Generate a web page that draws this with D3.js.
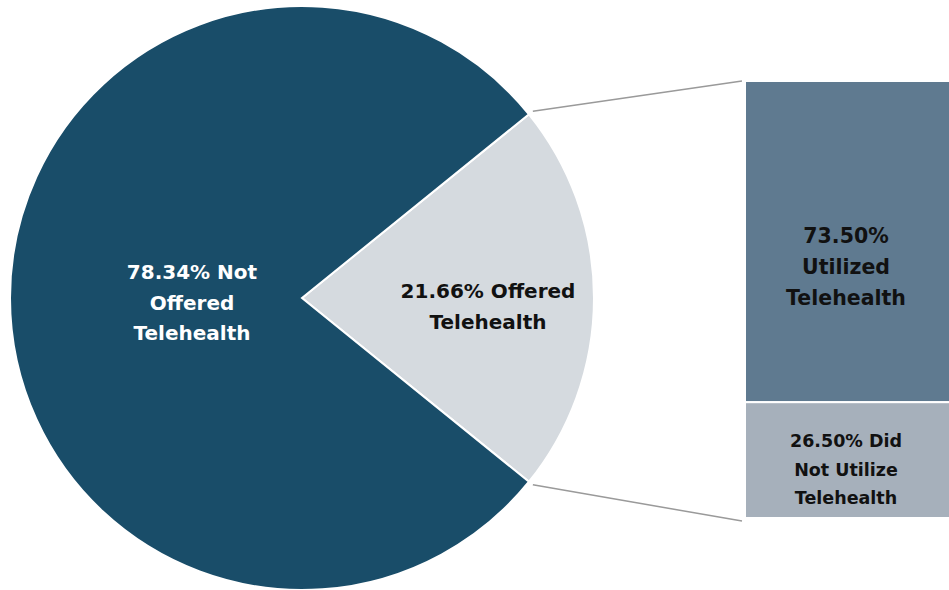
<!DOCTYPE html>
<html>
<head>
<meta charset="utf-8">
<script src="https://cdn.jsdelivr.net/npm/d3@7"></script>
<style>
  html, body { margin: 0; padding: 0; background: #fff; }
  svg { display: block; }
  text { font-family: "DejaVu Sans", "Liberation Sans", sans-serif; font-weight: 700; }
</style>
</head>
<body>
<svg id="chart" width="949" height="590"></svg>
<script>
// Share of respondents offered telehealth
const pieLabels = ["21.66% Offered\nTelehealth", "78.34% Not\nOffered\nTelehealth"];
const pieValues = [21.66, 78.34];
const pieColors = ["#d5dadf", "#194d69"];
const pieTextColors = ["#111111", "#ffffff"];

// Among those offered: utilization breakdown
const barLabels = ["73.50%\nUtilized\nTelehealth", "26.50% Did\nNot Utilize\nTelehealth"];
const barValues = [73.50, 26.50];
const barColors = ["#5f7a90", "#a6b0bb"];

const svg = d3.select("#chart");
const cx = 302, cy = 298, R = 292;

// Rotate the pie so the "Offered" slice is centred on the right-hand side
const offeredSpan = pieValues[0] / d3.sum(pieValues) * 2 * Math.PI;
const start = Math.PI / 2 - offeredSpan / 2;
const pie = d3.pie().sort(null).value(d => d).startAngle(start).endAngle(start + 2 * Math.PI);
const arcs = pie(pieValues);
const arc = d3.arc().innerRadius(0).outerRadius(R);

const g = svg.append("g").attr("transform", `translate(${cx},${cy})`);
g.selectAll("path.slice")
  .data(arcs)
  .join("path")
  .attr("class", "slice")
  .attr("d", arc)
  .attr("fill", (d, i) => pieColors[i])
  .attr("stroke", "#fff")
  .attr("stroke-width", 2);

function multiline(sel, text, lineH) {
  const lines = text.split("\n");
  lines.forEach((ln, k) => {
    sel.append("tspan")
      .attr("x", 0)
      .attr("dy", k === 0 ? 0 : lineH)
      .text(ln);
  });
}

// Slice labels (baseline of first line, relative to the centre)
const labelPos = [[186, 0], [-110, -19]];
arcs.forEach((d, i) => {
  const t = g.append("text")
    .attr("transform", `translate(${labelPos[i][0]},${labelPos[i][1]})`)
    .attr("text-anchor", "middle")
    .attr("fill", pieTextColors[i])
    .attr("font-size", 20);
  multiline(t, pieLabels[i], 30.5);
});

// Stacked bar for the breakdown
const barX = 745, barW = 210;
const barTop = 81, barBottom = 518;
const y = d3.scaleLinear().domain([0, d3.sum(barValues)]).range([barTop, barBottom]);
const stacked = [];
let acc = 0;
barValues.forEach((v, i) => { stacked.push({ y0: acc, y1: acc + v, i }); acc += v; });

svg.selectAll("rect.seg")
  .data(stacked)
  .join("rect")
  .attr("class", "seg")
  .attr("x", barX)
  .attr("y", d => y(d.y0))
  .attr("width", barW)
  .attr("height", d => y(d.y1) - y(d.y0))
  .attr("fill", d => barColors[d.i])
  .attr("stroke", "#fff")
  .attr("stroke-width", 2);

// Segment labels
const barFont = [20.5, 17.5];
const barLineH = [31, 28.5];
const barShift = [40, 22];
stacked.forEach((d, i) => {
  const lines = barLabels[i].split("\n").length;
  const mid = (y(d.y0) + y(d.y1)) / 2;
  const t = svg.append("text")
    .attr("transform", `translate(${barX + 101},${mid - (lines - 1) * barLineH[i] / 2 + barShift[i] - barFont[i] * 0.36})`)
    .attr("text-anchor", "middle")
    .attr("fill", "#111111")
    .attr("font-size", barFont[i]);
  multiline(t, barLabels[i], barLineH[i]);
});

// Connector lines from the "Offered" slice edges to the bar corners
const a0 = arcs[0].startAngle, a1 = arcs[0].endAngle;
const edge = a => [cx + (R + 5) * Math.sin(a), cy - (R + 5) * Math.cos(a)];
const connectors = [
  [edge(a0), [barX - 3, y(0)]],
  [edge(a1), [barX - 3, y(d3.sum(barValues)) + 3]]
];
svg.selectAll("line.conn")
  .data(connectors)
  .join("line")
  .attr("class", "conn")
  .attr("x1", d => d[0][0]).attr("y1", d => d[0][1])
  .attr("x2", d => d[1][0]).attr("y2", d => d[1][1])
  .attr("stroke", "#9a9a9a")
  .attr("stroke-width", 1.5);
</script>
</body>
</html>
